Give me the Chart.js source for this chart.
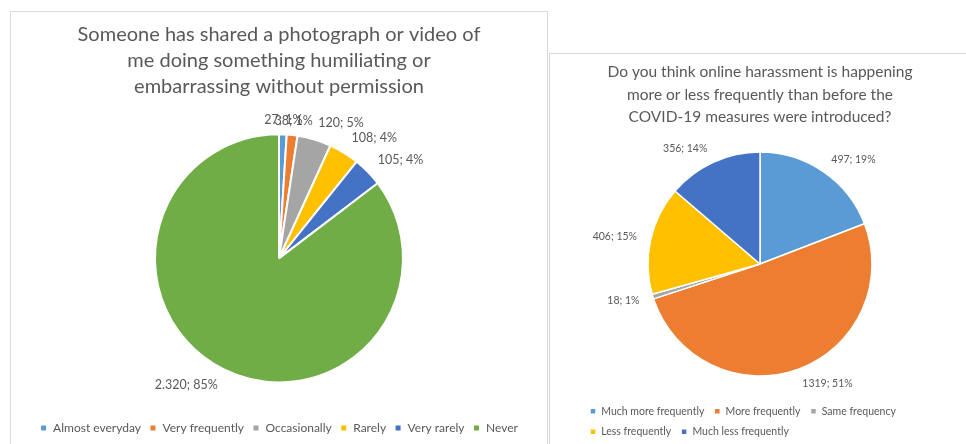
<!DOCTYPE html>
<html><head><meta charset="utf-8">
<script src="https://cdn.jsdelivr.net/npm/chart.js@4/dist/chart.umd.min.js"></script>
<style>
body{margin:0;background:#fff;width:966px;height:444px;overflow:hidden;position:relative;font-family:Lato,sans-serif}
.panel{position:absolute;border:1px solid #d9d9d9;box-sizing:border-box;background:#fff;overflow:hidden}
#p1{left:10px;top:11px;width:538px;height:460px}
#p2{left:549px;top:53px;width:440px;height:420px}
canvas{position:absolute;left:0;top:0}
</style></head>
<body>
<div class="panel" id="p1"><canvas id="c1" width="536" height="432"></canvas></div>
<div class="panel" id="p2"><canvas id="c2" width="416" height="393"></canvas></div>
<script>
// ---- Chart 1 data ----
const title1 = ["Someone has shared a photograph or video of", "me doing something humiliating or", "embarrassing without permission"];
const cats1 = ["Almost everyday", "Very frequently", "Occasionally", "Rarely", "Very rarely", "Never"];
const vals1 = [27, 38, 120, 108, 105, 2320];
const pcts1 = [1, 1, 5, 4, 4, 85];
const colors1 = ["#5B9BD5", "#ED7D31", "#A5A5A5", "#FFC000", "#4472C4", "#70AD47"];

// ---- Chart 2 data ----
const title2 = ["Do you think online harassment is happening", "more or less frequently than before the", "COVID-19 measures were introduced?"];
const cats2 = ["Much more frequently", "More frequently", "Same frequency", "Less frequently", "Much less frequently"];
const vals2 = [497, 1319, 18, 406, 356];
const pcts2 = [19, 51, 1, 15, 14];
const colors2 = ["#5B9BD5", "#ED7D31", "#A5A5A5", "#FFC000", "#4472C4"];

const TXT = "#595959";

const outLabels = {
  id: 'outLabels',
  afterDatasetsDraw(chart, args, opts) {
    const ctx = chart.ctx;
    const meta = chart.getDatasetMeta(0);
    ctx.save();
    ctx.font = opts.font;
    ctx.fillStyle = opts.color;
    ctx.textBaseline = 'middle';
    meta.data.forEach((arc, i) => {
      const p = arc.getProps(['x', 'y', 'startAngle', 'endAngle', 'outerRadius'], true);
      const mid = (p.startAngle + p.endAngle) / 2;
      const r = p.outerRadius + opts.offset;
      const px = p.x + Math.cos(mid) * r;
      let py = p.y + Math.sin(mid) * r;
      const c = Math.cos(mid);
      if (Math.abs(c) > 0.25) py += Math.sin(mid) * opts.vshift;
      ctx.textAlign = c > 0.25 ? 'left' : (c < -0.25 ? 'right' : 'center');
      ctx.fillText(opts.texts[i], px, py);
    });
    ctx.restore();
  }
};

function makePie(id, cats, vals, pcts, colors, title, cfg) {
  const texts = vals.map((v, i) => cfg.fmt(v) + '; ' + pcts[i] + '%');
  return new Chart(document.getElementById(id), {
    type: 'pie',
    data: { labels: cats, datasets: [{ data: vals, backgroundColor: colors, borderColor: '#fff', borderWidth: cfg.bw, radius: cfg.radius }] },
    plugins: [outLabels],
    options: {
      responsive: false, animation: false, events: [],
      layout: { padding: cfg.layoutPad },
      plugins: {
        title: { display: true, text: title, color: TXT, font: { family: 'Lato', size: cfg.titleSize, weight: 'normal', lineHeight: cfg.titleLH }, padding: cfg.titlePad },
        legend: { position: 'bottom', align: cfg.legendAlign,
          labels: { color: TXT, font: { family: 'Lato', size: cfg.legendSize }, boxWidth: cfg.box, boxHeight: cfg.box, padding: cfg.legendPad } },
        tooltip: { enabled: false },
        outLabels: { texts, font: cfg.labelFont, color: TXT, offset: cfg.offset, vshift: cfg.vshift }
      }
    }
  });
}

makePie('c1', cats1, vals1, pcts1, colors1, title1, {
  fmt: v => v.toLocaleString('de-DE'), bw: 2, radius: 124,
  layoutPad: { left: 0, right: 0, top: 0, bottom: 0 },
  titleSize: 20, titleLH: 1.32, titlePad: { top: 9, bottom: 3 },
  legendAlign: 'center', legendSize: 12, box: 7, legendPad: 8.5,
  labelFont: '12.5px Lato', offset: 14, vshift: 3
});

makePie('c2', cats2, vals2, pcts2, colors2, title2, {
  fmt: v => String(v), bw: 1.5, radius: 112,
  layoutPad: { left: 30, right: 26, top: 0, bottom: 0 },
  titleSize: 15.5, titleLH: 1.45, titlePad: { top: 7, bottom: 3.5 },
  legendAlign: 'start', legendSize: 10.5, box: 6, legendPad: 10,
  labelFont: '10.5px Lato', offset: 14, vshift: 1
});
</script>
</body></html>
